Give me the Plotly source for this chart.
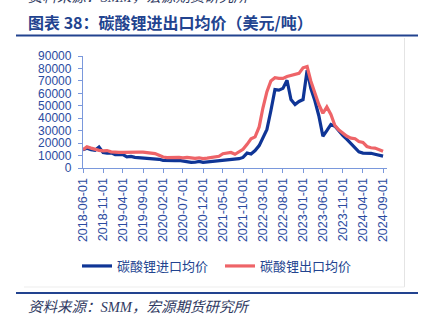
import pandas as pd
import plotly.graph_objects as go

months = pd.date_range("2018-06-01", "2024-09-01", freq="MS").strftime("%Y-%m-%d").tolist()

import_price = [
    14600, 15800, 14800, 14200, 16800, 12500, 12000, 12200, 10800, 10500,
    10800, 9000, 9300, 8600, 8400, 8000, 7800, 7300, 7000, 7000,
    6200, 6000, 6300, 6000, 6100, 5600, 4800, 4500, 4600, 5300,
    4500, 4800, 5000, 5300, 5500, 5800, 6000, 6500, 6800, 7500,
    8500, 12000, 11200, 14000, 18000, 24000, 31000, 46000, 63000, 62600,
    64000, 70500, 55000, 51000, 53500, 55000, 78600, 64000, 54000, 42000,
    25500, 30000, 35000, 33500, 29500, 26000, 23000, 19500, 16300, 13000,
    12000, 12000, 11800, 11000, 10300, 9500,
]

export_price = [
    14600, 17000, 16000, 15000, 14200, 13800, 14000, 13000, 12600, 12500,
    12500, 12400, 12600, 12800, 12700, 12800, 12600, 12200, 11600, 10200,
    8800, 8400, 8600, 8300, 8500, 8200, 8600, 8200, 7800, 8200,
    7600, 8000, 8600, 9000, 9400, 11500, 11800, 12500, 11000, 12800,
    15000, 19000, 23500, 25000, 33000, 48000, 61300, 70000, 72500, 72000,
    72000, 73500, 74500, 75000, 76000, 80500, 81500, 70000, 60000, 51000,
    44000, 49000, 43000, 34000, 30500, 28000, 25500, 24000, 23500, 21300,
    20500, 17300, 16300, 16000, 15000, 13500,
]

tick_dates = [
    "2018-06-01", "2018-11-01", "2019-04-01", "2019-09-01", "2020-02-01",
    "2020-07-01", "2020-12-01", "2021-05-01", "2021-10-01", "2022-03-01",
    "2022-08-01", "2023-01-01", "2023-06-01", "2023-11-01", "2024-04-01",
    "2024-09-01",
]
y_ticks = [0, 10000, 20000, 30000, 40000, 50000, 60000, 70000, 80000, 90000]

series_names = ["碳酸锂进口均价", "碳酸锂出口均价"]
title_text = "图表 38：碳酸锂进出口均价（美元/吨）"
source_text = "资料来源：SMM，宏源期货研究所"

BLUE = "#0F3596"
RED = "#EE6468"
TICK = "#2B4BA0"
AXIS = "#7A98DC"
DARK = "#22438F"

W, H = 429, 324
ML, MR, MT, MB = 83, 42, 56, 156
PW, PH = W - ML - MR, H - MT - MB


def px(x):
    return (x - ML) / PW


def py(y):
    return (H - MB - y) / PH


fig = go.Figure()
fig.add_trace(go.Scatter(x=months, y=import_price, mode="lines", name=series_names[0],
                         line=dict(color=BLUE, width=3.2)))
fig.add_trace(go.Scatter(x=months, y=export_price, mode="lines", name=series_names[1],
                         line=dict(color=RED, width=3.2)))

fig.update_layout(
    width=W, height=H,
    margin=dict(l=ML, r=MR, t=MT, b=MB, pad=0),
    paper_bgcolor="white", plot_bgcolor="white",
    font=dict(family="Liberation Sans, Arial, Noto Sans CJK SC", color=TICK),
    showlegend=True,
    legend=dict(orientation="h", x=px(77), y=py(266), xanchor="left", yanchor="middle",
                font=dict(size=13, color=DARK, family="Noto Sans CJK SC"),
                entrywidth=98, entrywidthmode="pixels",
                bgcolor="rgba(0,0,0,0)", itemwidth=30),
    xaxis=dict(
        type="date", range=["2018-06-01", "2024-10-01"],
        tickmode="array", tickvals=tick_dates, ticktext=tick_dates,
        tickangle=-90, tickfont=dict(size=12.5, color=TICK),
        showgrid=False, zeroline=False, showline=True, linecolor=AXIS, linewidth=1.3,
        ticks="outside", ticklen=4, tickcolor=AXIS, tickwidth=1.3,
    ),
    yaxis=dict(
        range=[0, 90000], tickmode="array", tickvals=y_ticks,
        ticktext=[str(v) for v in y_ticks],
        tickfont=dict(size=12, color=TICK),
        showgrid=False, zeroline=False, showline=True, linecolor=AXIS, linewidth=1.3,
        ticks="outside", ticklen=4, tickcolor=AXIS, tickwidth=1.3,
        ticklabelstandoff=4,
    ),
)

shapes = [
    dict(type="line", xref="paper", yref="paper", x0=px(16), x1=px(418), y0=py(35.5), y1=py(35.5),
         line=dict(color=DARK, width=2)),
    dict(type="line", xref="paper", yref="paper", x0=px(16), x1=px(418), y0=py(293), y1=py(293),
         line=dict(color=DARK, width=2)),
    dict(type="line", xref="paper", yref="paper", x0=px(404.5), x1=px(404.5), y0=py(38), y1=py(287),
         line=dict(color="#E4E4E4", width=1)),
    dict(type="line", xref="paper", yref="paper", x0=px(24), x1=px(404.5), y0=py(287), y1=py(287),
         line=dict(color="#EDEDED", width=1)),
]
fig.update_layout(shapes=shapes)

fig.add_annotation(text="<b>" + title_text + "</b>", xref="paper", yref="paper",
                   x=px(26), y=py(22), xanchor="left", yanchor="middle", showarrow=False,
                   font=dict(size=16, color=DARK, family="Noto Sans CJK SC"))
fig.add_annotation(text=source_text, xref="paper", yref="paper",
                   x=px(26), y=py(307), xanchor="left", yanchor="middle", showarrow=False,
                   font=dict(size=14.5, color="#2F3A62", family="Liberation Serif, Noto Sans CJK SC",
                             style="italic"))
fig.add_annotation(text=source_text, xref="paper", yref="paper",
                   x=px(26), y=py(-3), xanchor="left", yanchor="middle", showarrow=False,
                   font=dict(size=14.5, color="#2F3A62", family="Liberation Serif, Noto Sans CJK SC",
                             style="italic"))

fig.write_html("out.html")
